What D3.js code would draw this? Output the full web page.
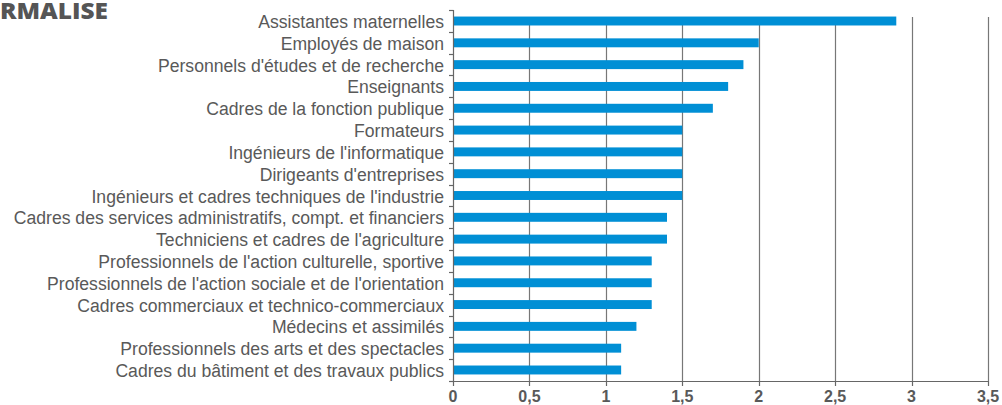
<!DOCTYPE html>
<html>
<head>
<meta charset="utf-8">
<script src="https://cdn.jsdelivr.net/npm/d3@7"></script>
<style>
  body { margin: 0; background: #fff; }
  svg { display: block; }
  .cat-label { font-family: "Liberation Sans", Arial, sans-serif; font-size: 17.6px; fill: #595959; }
  .x-label { font-family: "Liberation Sans", Arial, sans-serif; font-size: 16px; font-weight: bold; fill: #595959; }
  .title { font-family: "Open Sans", sans-serif; font-size: 22px; font-weight: 800; fill: #555; }
</style>
</head>
<body>
<div id="chart-container"></div>
<script>
// Data
const categories = [
  "Assistantes maternelles",
  "Employés de maison",
  "Personnels d'études et de recherche",
  "Enseignants",
  "Cadres de la fonction publique",
  "Formateurs",
  "Ingénieurs de l'informatique",
  "Dirigeants d'entreprises",
  "Ingénieurs et cadres techniques de l'industrie",
  "Cadres des services administratifs, compt. et financiers",
  "Techniciens et cadres de l'agriculture",
  "Professionnels de l'action culturelle, sportive",
  "Professionnels de l'action sociale et de l'orientation",
  "Cadres commerciaux et technico-commerciaux",
  "Médecins et assimilés",
  "Professionnels des arts et des spectacles",
  "Cadres du bâtiment et des travaux publics"
];
const values = [2.9, 2.0, 1.9, 1.8, 1.7, 1.5, 1.5, 1.5, 1.5, 1.4, 1.4, 1.3, 1.3, 1.3, 1.2, 1.1, 1.1];
const xTicks = [0, 0.5, 1, 1.5, 2, 2.5, 3, 3.5];
const titleText = "RMALISE";

// Size
const width = 1002, height = 405;
const margin = {top: 10, left: 453, right: 14, bottom: 24};
const svg = d3.select("#chart-container").append("svg")
  .attr("width", width).attr("height", height);

// Scales
const x = d3.scaleLinear()
  .domain([0, 3.5])
  .range([margin.left, width - margin.right]);
const y = d3.scaleBand()
  .domain(d3.range(categories.length))
  .range([margin.top, height - margin.bottom])
  .paddingInner(0.59)
  .paddingOuter(0.3)
  .align(0.5);
const step = (height - margin.bottom - margin.top) / categories.length;
const bottomY = height - margin.bottom;

// Title (cut off on the left)
svg.append("text")
  .attr("class", "title")
  .attr("x", 0)
  .attr("y", 19)
  .attr("textLength", 108)
  .attr("lengthAdjust", "spacingAndGlyphs")
  .text(titleText);

// Gridlines
const chart = svg.append("g");
chart.append("g").selectAll("line")
  .data(xTicks.slice(1))
  .join("line")
    .attr("x1", d => Math.round(x(d)) + 0.5)
    .attr("x2", d => Math.round(x(d)) + 0.5)
    .attr("y1", margin.top + 7)
    .attr("y2", bottomY)
    .attr("stroke", "#777")
    .attr("stroke-width", 1.2);

// Bars
chart.append("g").selectAll("rect")
  .data(values)
  .join("rect")
    .attr("x", x(0))
    .attr("y", (d, i) => y(i))
    .attr("width", d => x(d) - x(0))
    .attr("height", y.bandwidth())
    .attr("fill", "#008fd5");

// Category labels
chart.append("g").selectAll("text")
  .data(categories)
  .join("text")
    .attr("class", "cat-label")
    .attr("x", margin.left - 9)
    .attr("y", (d, i) => margin.top + step * (i + 0.5) + 1)
    .attr("text-anchor", "end")
    .attr("dominant-baseline", "central")
    .text(d => d);

// Y axis line and ticks at band boundaries
const yAxis = chart.append("g");
yAxis.append("line")
  .attr("x1", Math.round(x(0)) + 0.5).attr("x2", Math.round(x(0)) + 0.5)
  .attr("y1", margin.top).attr("y2", bottomY)
  .attr("stroke", "#666").attr("stroke-width", 1.2);
yAxis.selectAll(".ytick")
  .data(d3.range(categories.length + 1))
  .join("line")
    .attr("class", "ytick")
    .attr("x1", Math.round(x(0)) - 4).attr("x2", Math.round(x(0)) + 0.5)
    .attr("y1", i => Math.round(margin.top + step * i) + 0.5)
    .attr("y2", i => Math.round(margin.top + step * i) + 0.5)
    .attr("stroke", "#666").attr("stroke-width", 1.2);

// X axis
const xAxis = chart.append("g");
xAxis.append("line")
  .attr("x1", x(0)).attr("x2", x(3.5))
  .attr("y1", Math.round(bottomY) + 0.5).attr("y2", Math.round(bottomY) + 0.5)
  .attr("stroke", "#666").attr("stroke-width", 1.2);
xAxis.selectAll(".xtick")
  .data(xTicks)
  .join("line")
    .attr("class", "xtick")
    .attr("x1", d => Math.round(x(d)) + 0.5).attr("x2", d => Math.round(x(d)) + 0.5)
    .attr("y1", bottomY).attr("y2", bottomY + 5)
    .attr("stroke", "#666").attr("stroke-width", 1.2);
const fmt = d => String(d).replace(".", ",");
xAxis.selectAll("text")
  .data(xTicks)
  .join("text")
    .attr("class", "x-label")
    .attr("x", d => x(d))
    .attr("y", bottomY + 21)
    .attr("text-anchor", "middle")
    .text(fmt);
</script>
</body>
</html>
